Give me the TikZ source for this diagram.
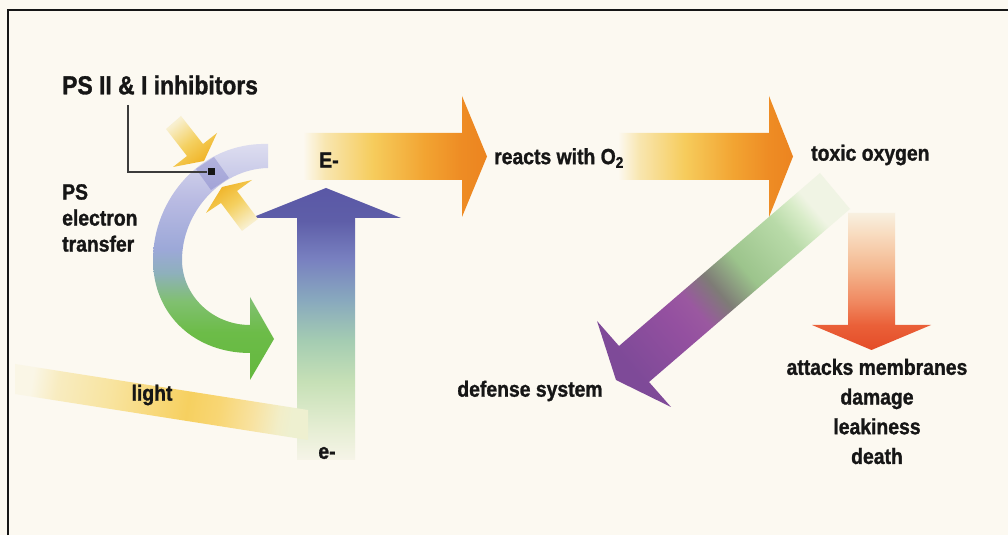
\documentclass[tikz,border=0pt]{standalone}
\usepackage{fontspec}
\setmainfont{Liberation Sans}[FakeStretch=0.88, BoldFeatures={FakeBold=1.2}]
\usetikzlibrary{positioning}

\definecolor{bgcream}{HTML}{FCF9F1}
\definecolor{ink}{HTML}{161616}
\definecolor{leadgray}{HTML}{3C3C3C}

% Shadings (colours from left to right, the path fills 25bp to 75bp)
\pgfdeclarehorizontalshading{oxshade}{100bp}{color(0bp)=(bgcream); color(25bp)=(bgcream);
  rgb(31bp)=(0.973,0.902,0.690); rgb(44bp)=(0.965,0.800,0.361); rgb(58bp)=(0.949,0.643,0.196);
  rgb(68bp)=(0.933,0.549,0.141); rgb(75bp)=(0.925,0.518,0.125); rgb(100bp)=(0.925,0.518,0.125)}
\pgfdeclarehorizontalshading{blueshade}{100bp}{rgb(0bp)=(0.965,0.957,0.910); rgb(25bp)=(0.965,0.957,0.910);
  rgb(30.5bp)=(0.902,0.933,0.831); rgb(39.5bp)=(0.776,0.878,0.714); rgb(47bp)=(0.643,0.800,0.698);
  rgb(54.5bp)=(0.533,0.659,0.745); rgb(62bp)=(0.471,0.502,0.753); rgb(69bp)=(0.369,0.369,0.659);
  rgb(75bp)=(0.353,0.345,0.651); rgb(100bp)=(0.353,0.345,0.651)}
\pgfdeclarehorizontalshading{harmshade}{100bp}{rgb(0bp)=(0.973,0.941,0.878); rgb(25bp)=(0.973,0.941,0.878);
  rgb(32.5bp)=(0.973,0.863,0.753); rgb(45bp)=(0.957,0.722,0.565); rgb(57.5bp)=(0.941,0.533,0.376);
  rgb(66bp)=(0.918,0.376,0.220); rgb(75bp)=(0.894,0.298,0.157); rgb(100bp)=(0.894,0.298,0.157)}
\pgfdeclarehorizontalshading{defshade}{100bp}{rgb(0bp)=(0.494,0.290,0.596); rgb(25bp)=(0.494,0.290,0.596);
  rgb(38bp)=(0.580,0.314,0.627); rgb(43bp)=(0.604,0.345,0.627); rgb(49bp)=(0.494,0.486,0.463);
  rgb(56bp)=(0.612,0.769,0.549); rgb(67bp)=(0.722,0.855,0.659); rgb(72bp)=(0.847,0.925,0.784);
  rgb(75bp)=(0.941,0.957,0.894); rgb(100bp)=(0.941,0.957,0.894)}
\pgfdeclarehorizontalshading{psshade}{100bp}{rgb(0bp)=(0.392,0.722,0.243); rgb(25bp)=(0.392,0.722,0.243);
  rgb(35bp)=(0.424,0.737,0.282); rgb(41.5bp)=(0.502,0.753,0.439); rgb(47.5bp)=(0.557,0.690,0.737);
  rgb(52.5bp)=(0.612,0.659,0.847); rgb(62.5bp)=(0.722,0.729,0.886); rgb(75bp)=(0.871,0.871,0.941);
  rgb(100bp)=(0.871,0.871,0.941)}
\pgfdeclarehorizontalshading{inhshade}{100bp}{rgb(0bp)=(0.973,0.941,0.816); rgb(25bp)=(0.973,0.941,0.816);
  rgb(50bp)=(0.957,0.816,0.376); rgb(75bp)=(0.941,0.690,0.125); rgb(100bp)=(0.941,0.690,0.125)}
\pgfdeclarehorizontalshading{lightshade}{100bp}{rgb(0bp)=(0.980,0.965,0.902); rgb(25bp)=(0.980,0.965,0.902);
  rgb(30bp)=(0.973,0.925,0.753); rgb(40bp)=(0.973,0.894,0.627); rgb(47.5bp)=(0.973,0.855,0.502);
  rgb(55bp)=(0.965,0.816,0.376); rgb(61bp)=(0.973,0.839,0.455); rgb(67.5bp)=(0.973,0.886,0.627);
  rgb(72.5bp)=(0.949,0.933,0.784); rgb(75bp)=(0.933,0.941,0.816); rgb(100bp)=(0.933,0.941,0.816)}

\begin{document}
\begin{tikzpicture}[
        x=1pt, y=1pt,
        txt/.style={font=\bfseries\fontsize{22}{26}\selectfont, text=ink, inner sep=0pt},
        headtxt/.style={txt, font=\bfseries\fontsize{26}{30}\selectfont},
        leader/.style={draw=leadgray, line width=1.2pt}
    ]
        % Background and frame
        \fill[bgcream] (0,0) rectangle (1008,535);
        \useasboundingbox (0,0) rectangle (1008,535);
        \draw[line width=1.5pt, ink] (8,0) -- (8,525) -- (1008,525);

        % Arrows
        \shade[shading=blueshade, shading angle=90] (297,75) -- (297,317) -- (251,317) -- (326,347)
            -- (401,317) -- (355,317) -- (355,75) -- cycle;
        \shade[shading=lightshade, shading angle=-9] (15,171) -- (308,125) -- (308,95) -- (15,141) -- cycle;
        \shade[shading=oxshade] (303,355) -- (462,355) -- (462,318) -- (487,378.5) -- (462,439)
            -- (462,402) -- (303,402) -- cycle;
        \shade[shading=defshade, shading angle=40.6] (820,362) -- (619,189) -- (597,214) -- (616,155)
            -- (671,128) -- (649,153) -- (850,326) -- cycle;
        \shade[shading=oxshade] (618,355) -- (769,355) -- (769,318) -- (793,378.5) -- (769,439)
            -- (769,402) -- (618,402) -- cycle;
        \shade[shading=harmshade, shading angle=-90] (848,322) -- (848,210) -- (812,210) -- (871.5,185)
            -- (931,210) -- (895,210) -- (895,322) -- cycle;
        \shade[shading=psshade, shading angle=90] (268,391) .. controls (200,393) and (153,335) .. (153,275)
            .. controls (153,220) and (195,182) .. (250,182) -- (250,155) -- (274,196) -- (250,238)
            -- (250,210) .. controls (212,210) and (182,240) .. (182,275)
            .. controls (182,322) and (220,366) .. (268,367) -- cycle;
        \fill[blue!40!gray, opacity=0.25] (229,357) -- (214,378) -- (196,366) -- (211,345) -- cycle;
        \shade[shading=inhshade, shading angle=-51.5] (181,419) -- (203,391) -- (217,402) -- (204,374)
            -- (173,368) -- (187,379) -- (166,406) -- cycle;
        \shade[shading=inhshade, shading angle=126] (258,316) -- (237,344) -- (252,355) -- (222,348)
            -- (206,322) -- (221,332) -- (242,304) -- cycle;

        % Nodes
        \node [headtxt, anchor=west] (inhib) at (62,450) {PS II \& I inhibitors};
        \node [txt, anchor=north west, align=left] (ps) at (62,351) {PS\\electron\\transfer};
        \node [txt] (eup) at (329,375) {E-};
        \node [txt, anchor=west] (react) at (494,377) {reacts with O\textsubscript{2}};
        \node [txt, anchor=west] (toxic) at (811,380) {toxic oxygen};
        \node [txt] (light) at (152,140) {light};
        \node [txt] (elow) at (327,82) {e-};
        \node [txt] (defense) at (530,144) {defense system};
        \node [txt, align=center, font=\bfseries\fontsize{22}{29.7}\selectfont] (harm) at (877,123.5)
            {attacks membranes\\damage\\leakiness\\death};
        \node [fill=ink, minimum size=7pt, inner sep=0pt] (site) at (211,363) {};

        % Leader
        \coordinate (lead) at (128,430);
        \draw [leader] (lead) |- (site);
    \end{tikzpicture}
\end{document}
